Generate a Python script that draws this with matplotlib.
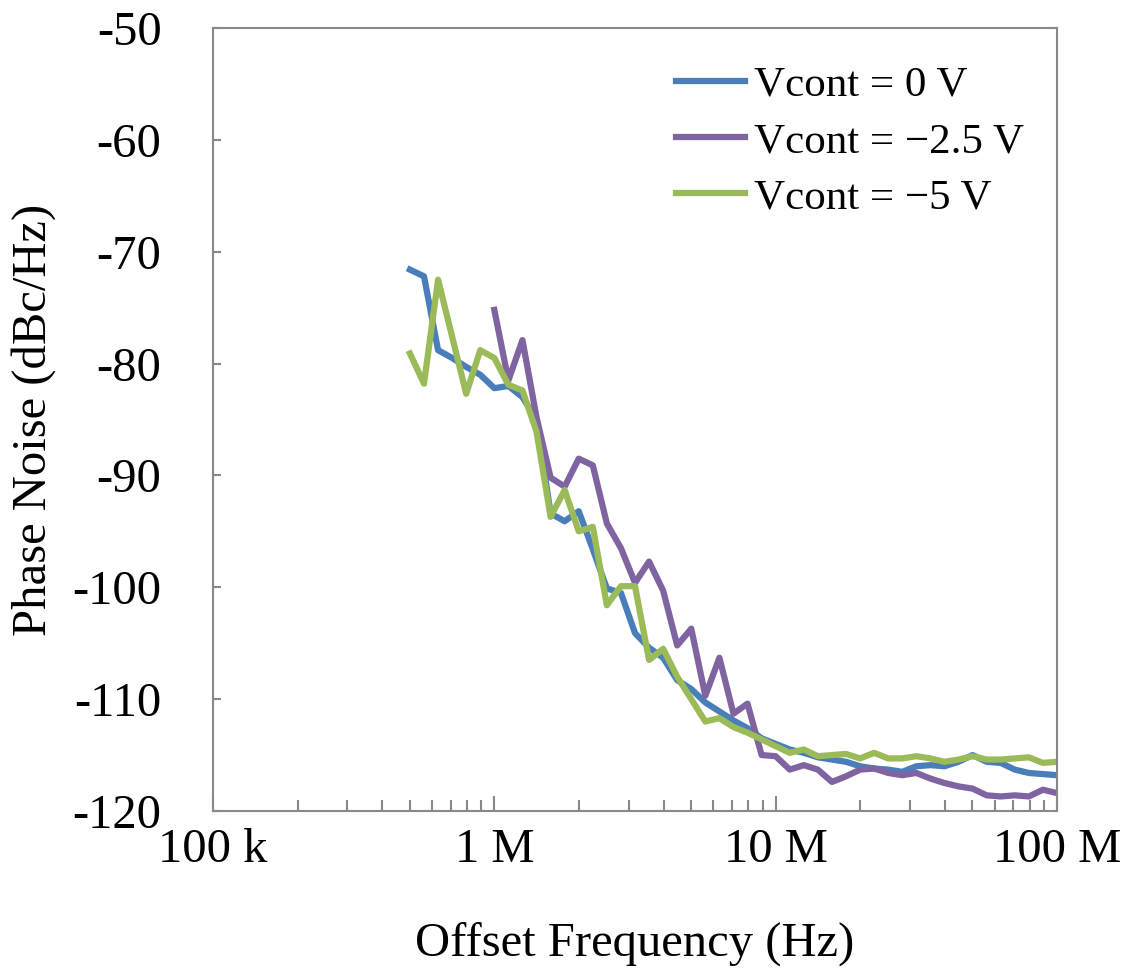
import numpy as np
import matplotlib
matplotlib.use("Agg")
import matplotlib.pyplot as plt
from matplotlib.ticker import FixedLocator, NullFormatter

# Offset frequencies (Hz): 20 points per decade from 500 kHz to 100 MHz
freq_exponents = [5.70, 5.75, 5.80, 5.85, 5.90, 5.95, 6.00, 6.05, 6.10, 6.15,
                  6.20, 6.25, 6.30, 6.35, 6.40, 6.45, 6.50, 6.55, 6.60, 6.65,
                  6.70, 6.75, 6.80, 6.85, 6.90, 6.95, 7.00, 7.05, 7.10, 7.15,
                  7.20, 7.25, 7.30, 7.35, 7.40, 7.45, 7.50, 7.55, 7.60, 7.65,
                  7.70, 7.75, 7.80, 7.85, 7.90, 7.95, 8.00]
freq = [10 ** e for e in freq_exponents]

pn_0V = [-71.6, -72.2, -78.8, -79.5, -80.3, -81.0, -82.2, -82.0, -83.0, -85.0,
         -93.4, -94.1, -93.2, -96.6, -100.1, -100.5, -104.1, -105.4, -106.3, -108.3,
         -109.1, -110.3, -111.1, -111.9, -112.6, -113.5, -114.0, -114.5, -114.8, -115.2,
         -115.4, -115.6, -116.0, -116.2, -116.3, -116.5, -116.0, -115.9, -116.0, -115.6,
         -115.0, -115.6, -115.7, -116.3, -116.6, -116.7, -116.8]

# Vcont = -2.5 V starts at 1 MHz (index 6)
pn_m25V = [-75.2, -81.5, -77.9, -84.8,
           -90.2, -91.0, -88.5, -89.1, -94.3, -96.5, -99.6, -97.7, -100.3, -105.2,
           -103.7, -109.7, -106.3, -111.3, -110.4, -115.0, -115.1, -116.3, -115.9, -116.3,
           -117.4, -116.9, -116.3, -116.2, -116.6, -116.8, -116.6, -117.1, -117.5, -117.8,
           -118.0, -118.6, -118.7, -118.6, -118.7, -118.1, -118.4]

pn_m5V = [-79.1, -81.8, -72.5, -77.6, -82.7, -78.8, -79.5, -81.9, -82.4, -86.1,
          -93.7, -91.3, -95.0, -94.6, -101.6, -99.9, -99.9, -106.5, -105.5, -108.0,
          -110.0, -112.0, -111.7, -112.5, -113.0, -113.6, -114.2, -114.8, -114.5, -115.1,
          -115.0, -114.9, -115.3, -114.8, -115.3, -115.3, -115.1, -115.3, -115.6, -115.4,
          -115.1, -115.4, -115.4, -115.3, -115.2, -115.7, -115.6]

labels = ["Vcont = 0 V", "Vcont = \u22122.5 V", "Vcont = \u22125 V"]
colors = ["#4A7EBB", "#8064A2", "#9BBB59"]

x_ticks = [1e5, 1e6, 1e7, 1e8]
x_ticklabels = ["100 k", "1 M", "10 M", "100 M"]
y_ticks = [-50, -60, -70, -80, -90, -100, -110, -120]
y_ticklabels = ["-50", "-60", "-70", "-80", "-90", "-100", "-110", "-120"]

plt.rcParams['font.family'] = ['Liberation Serif', 'DejaVu Serif']

fig = plt.figure(figsize=(11.31, 9.73), dpi=100)
ax = fig.add_axes([213 / 1131, 1 - 811 / 973, (1057 - 213) / 1131, (811 - 28) / 973])

lw = 4.5
ax.plot(freq, pn_0V, color=colors[0], lw=lw, label=labels[0], solid_joinstyle='round')
ax.plot(freq[6:], pn_m25V, color=colors[1], lw=lw, label=labels[1], solid_joinstyle='round')
ax.plot(freq, pn_m5V, color=colors[2], lw=lw, label=labels[2], solid_joinstyle='round')

ax.set_xscale('log')
ax.set_xlim(1e5, 1e8)
ax.set_ylim(-120, -50)

ax.xaxis.set_major_locator(FixedLocator(x_ticks))
ax.set_xticklabels(x_ticklabels)
minor = [m * 10 ** d for d in range(5, 8) for m in range(2, 10)]
ax.xaxis.set_minor_locator(FixedLocator(minor))
ax.xaxis.set_minor_formatter(NullFormatter())
ax.set_yticks(y_ticks)
ax.set_yticklabels(y_ticklabels)

spine_color = "#898989"
for s in ax.spines.values():
    s.set_color(spine_color)
    s.set_linewidth(1.5)

fs = 35
ax.tick_params(axis='x', which='major', direction='in', length=11, width=1.5,
               color=spine_color, labelsize=fs, pad=12)
ax.tick_params(axis='x', which='minor', direction='in', length=8, width=1.5,
               color=spine_color)
ax.tick_params(axis='y', which='major', direction='in', length=6, width=1.5,
               color=spine_color, labelsize=fs, pad=37)

ax.set_xlabel("Offset Frequency (Hz)", fontsize=fs, labelpad=36)
ax.set_ylabel("Phase Noise (dBc/Hz)", fontsize=fs, labelpad=12)

leg = ax.legend(loc='upper right', frameon=False, fontsize=31, handlelength=1.6,
                handletextpad=0.2, labelspacing=0.4, borderaxespad=0.0,
                bbox_to_anchor=(0.981, 0.974))

fig.savefig("out.png", dpi=100)
